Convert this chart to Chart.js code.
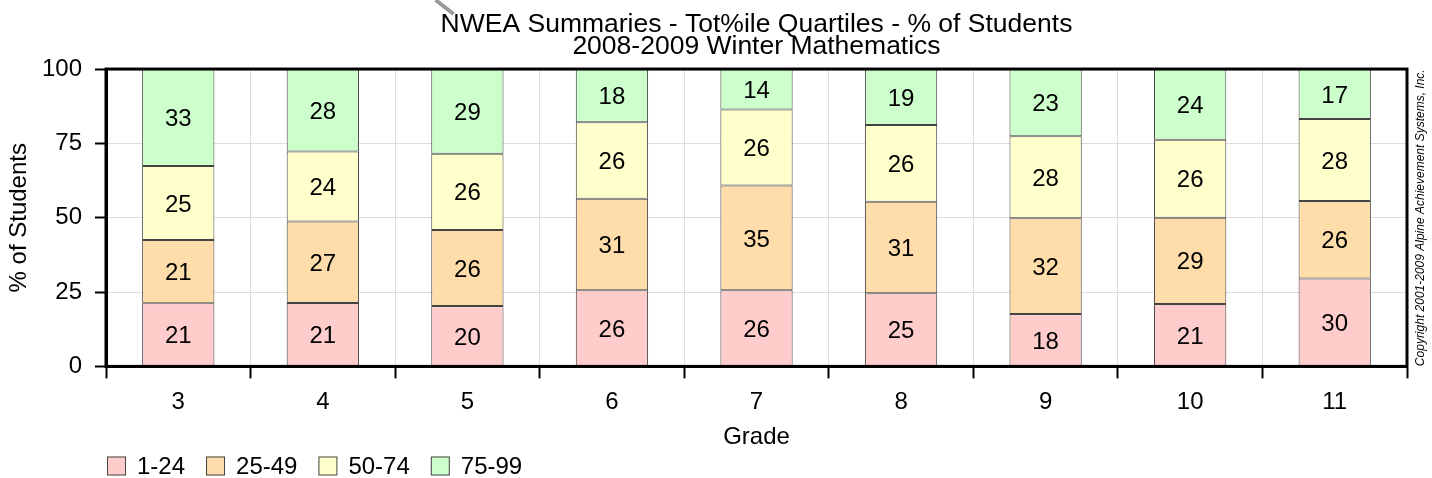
<!DOCTYPE html>
<html>
<head>
<meta charset="utf-8">
<title>NWEA Summaries - Tot%ile Quartiles</title>
<script src="https://cdn.jsdelivr.net/npm/chart.js@4.4.1/dist/chart.umd.min.js"></script>
<style>
  html, body { margin: 0; padding: 0; background: #fff; }
  #wrap { width: 1432px; height: 478px; position: relative; }
</style>
</head>
<body>
<div id="wrap"><canvas id="quartile-chart"></canvas></div>
<script>
const FONT = "'Liberation Sans', Arial, Helvetica, sans-serif";

// grades along the x axis
const grades = ["3", "4", "5", "6", "7", "8", "9", "10", "11"];

// % of students in each quartile band
const q1_24  = [21.2, 21.3, 20.3, 25.6, 25.6, 24.6, 17.6, 21.0, 29.6];
const q25_49 = [21.3, 27.4, 25.6, 30.8, 35.2, 30.8, 32.2, 29.0, 26.0];
const q50_74 = [24.9, 23.6, 25.6, 25.7, 25.6, 25.8, 27.6, 26.2, 27.6];
const q75_99 = [32.6, 27.7, 28.5, 17.9, 13.6, 18.8, 22.6, 23.8, 16.8];

const bandLabels = ["1-24", "25-49", "50-74", "75-99"];
const bandColors = ["#ffcccc", "#ffddaa", "#ffffcc", "#ccffcc"];
const yTicks = [0, 25, 50, 75, 100];
const titleLines = ["NWEA Summaries - Tot%ile Quartiles - % of Students", "2008-2009 Winter Mathematics"];

// value labels in the middle of each segment
const segmentLabels = {
  id: "segmentLabels",
  afterDatasetsDraw(chart) {
    const ctx = chart.ctx;
    ctx.save();
    ctx.font = "24px " + FONT;
    ctx.fillStyle = "#000";
    ctx.textAlign = "center";
    ctx.textBaseline = "middle";
    chart.data.datasets.forEach((ds, i) => {
      chart.getDatasetMeta(i).data.forEach((bar, j) => {
        const v = ds.data[j];
        if (!v) return;
        ctx.fillText(Math.round(v), bar.x, (bar.y + bar.base) / 2 + 2);
      });
    });
    ctx.restore();
  }
};

// thick frame, legend row and the copyright note
const frameAndNotes = {
  id: "frameAndNotes",
  afterDraw(chart) {
    const ctx = chart.ctx;
    const a = chart.chartArea;
    ctx.save();
    ctx.strokeStyle = "#000";
    ctx.lineWidth = 3;
    ctx.strokeRect(a.left, a.top, a.right - a.left, a.bottom - a.top);

    // little grey pen stroke touching the start of the title
    ctx.font = "26.5px " + FONT;
    const tStart = (a.left + a.right) / 2 - ctx.measureText(titleLines[0]).width / 2;
    ctx.strokeStyle = "#999";
    ctx.lineWidth = 4;
    ctx.beginPath();
    ctx.moveTo(tStart - 5, 0);
    ctx.lineTo(tStart + 13, 14);
    ctx.stroke();

    // legend
    ctx.font = "24px " + FONT;
    ctx.textBaseline = "middle";
    ctx.textAlign = "left";
    let x = a.left + 1;
    const y = chart.height - 12;
    chart.data.datasets.forEach((ds) => {
      ctx.fillStyle = ds.backgroundColor;
      ctx.fillRect(x, y - 9.5, 19, 19);
      ctx.strokeStyle = "#444";
      ctx.lineWidth = 1;
      ctx.strokeRect(x + 0.5, y - 9, 18, 18);
      ctx.fillStyle = "#000";
      ctx.fillText(ds.label, x + 30, y + 1);
      x += 30 + ctx.measureText(ds.label).width + 21;
    });

    // copyright, rotated
    ctx.font = "italic 12px " + FONT;
    ctx.fillStyle = "#000";
    ctx.textAlign = "center";
    ctx.translate(a.right + 14, (a.top + a.bottom) / 2);
    ctx.rotate(-Math.PI / 2);
    ctx.fillText("Copyright 2001-2009 Alpine Achievement Systems, Inc.", 0, 0);
    ctx.restore();
  }
};

const datasets = [q1_24, q25_49, q50_74, q75_99].map((vals, i) => ({
  label: bandLabels[i],
  data: vals,
  backgroundColor: bandColors[i],
  borderColor: "#444",
  borderWidth: 1,
  borderSkipped: false,
  barPercentage: 0.5,
  categoryPercentage: 1.0,
}));

const ctx = document.getElementById("quartile-chart").getContext("2d");
new Chart(ctx, {
  type: "bar",
  data: { labels: grades, datasets: datasets },
  options: {
    responsive: true,
    maintainAspectRatio: false,
    animation: false,
    events: [],
    layout: { padding: { left: 0, right: 25, top: 4, bottom: 26 } },
    plugins: {
      legend: { display: false },
      tooltip: { enabled: false },
      title: {
        display: true,
        fullSize: false,
        text: titleLines,
        color: "#000",
        font: { family: FONT, size: 26.5, weight: "normal", lineHeight: 0.85 },
        padding: { top: 9, bottom: 11 },
      },
    },
    scales: {
      x: {
        stacked: true,
        offset: true,
        grid: {
          offset: true,
          color: "#dcdcdc",
          tickColor: "#000",
          tickWidth: 2,
          tickLength: 12,
        },
        border: { color: "#000", width: 3 },
        ticks: { color: "#000", font: { family: FONT, size: 24 }, padding: 10 },
        title: { display: true, text: "Grade", color: "#000", font: { family: FONT, size: 24 }, padding: { top: -4, bottom: 0 } },
      },
      y: {
        stacked: true,
        min: 0,
        max: 100,
        afterBuildTicks: (scale) => { scale.ticks = yTicks.map(v => ({ value: v })); },
        afterFit: (scale) => { scale.width = 106; },
        grid: {
          color: "#dcdcdc",
          tickColor: "#000",
          tickWidth: 2,
          tickLength: 11,
        },
        border: { color: "#000", width: 3 },
        ticks: { color: "#000", font: { family: FONT, size: 24 }, padding: 13 },
        title: { display: true, text: "% of Students", color: "#000", font: { family: FONT, size: 24 }, padding: 5 },
      },
    },
  },
  plugins: [segmentLabels, frameAndNotes],
});
</script>
</body>
</html>
